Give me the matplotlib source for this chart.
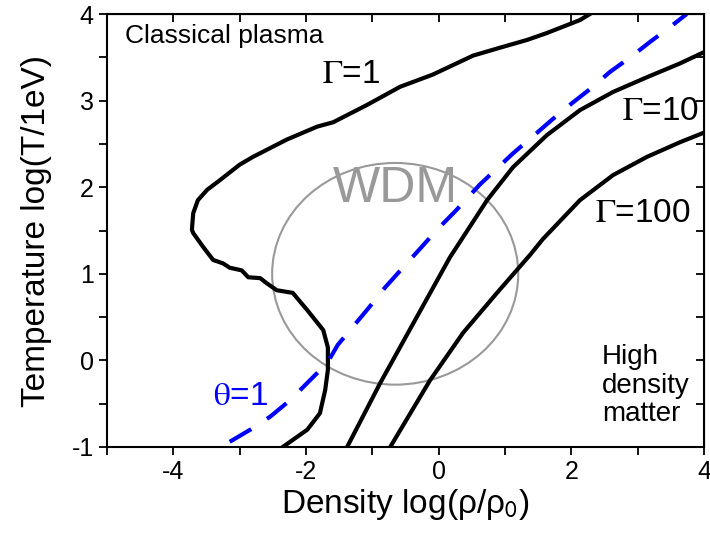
import matplotlib.pyplot as plt
from matplotlib.patches import Ellipse
from matplotlib.ticker import MultipleLocator

plt.rcParams['font.family'] = ['Liberation Sans', 'DejaVu Sans']
plt.rcParams['mathtext.fontset'] = 'stix'
plt.rcParams['axes.unicode_minus'] = False

# Gamma = 1 contour (log rho, log T)
g1_x = [2.28, 2.13, 1.63, 1.33, 0.92, 0.52, -0.09, -0.58, -1.08, -1.59, -1.83,
        -2.29, -2.80, -3.00, -3.30, -3.49, -3.63, -3.70, -3.72, -3.70, -3.55, -3.40,
        -3.25, -3.15, -2.97, -2.87, -2.69, -2.59, -2.44, -2.20, -1.98, -1.74, -1.67,
        -1.67, -1.71, -1.79, -1.98, -2.35]
g1_y = [4.00, 3.93, 3.78, 3.70, 3.61, 3.52, 3.30, 3.16, 2.95, 2.75, 2.70,
        2.55, 2.35, 2.26, 2.08, 1.97, 1.85, 1.70, 1.51, 1.47, 1.31, 1.16,
        1.12, 1.07, 1.04, 0.96, 0.95, 0.89, 0.81, 0.78, 0.58, 0.35, 0.15,
        -0.11, -0.34, -0.61, -0.80, -1.00]

# Gamma = 10
g10_x = [-1.38, -0.88, -0.33, 0.17, 0.73, 1.12, 1.63, 2.13, 2.63, 3.14, 3.64, 4.00]
g10_y = [-1.00, -0.26, 0.50, 1.19, 1.85, 2.23, 2.60, 2.89, 3.10, 3.27, 3.43, 3.56]

# Gamma = 100
g100_x = [-0.73, -0.13, 0.37, 0.88, 1.38, 1.57, 2.13, 2.63, 3.14, 3.64, 4.00]
g100_y = [-1.00, -0.23, 0.32, 0.78, 1.22, 1.40, 1.85, 2.14, 2.35, 2.52, 2.63]

# theta = 1 (degeneracy line)
th_x = [-3.15, -2.84, -2.54, -2.24, -1.98, -1.68, -1.52, -1.29, -1.04, -0.81,
        -0.54, -0.28, -0.01, 0.26, 0.62, 1.12, 1.41, 1.71, 2.01, 2.31, 2.58,
        2.89, 3.19, 3.49, 3.74]
th_y = [-0.94, -0.80, -0.65, -0.46, -0.26, -0.03, 0.18, 0.39, 0.62, 0.84,
        1.07, 1.29, 1.52, 1.73, 2.03, 2.39, 2.58, 2.78, 2.97, 3.15, 3.33,
        3.50, 3.68, 3.85, 4.00]

fig = plt.figure(figsize=(7.1, 5.35), dpi=100)
ax = fig.add_axes([0.1507, 0.1645, 0.8408, 0.8093])

ax.plot(g1_x, g1_y, color='black', lw=3)
ax.plot(g10_x, g10_y, color='black', lw=3)
ax.plot(g100_x, g100_y, color='black', lw=3)
ax.plot(th_x, th_y, color='#0000ff', lw=3, dashes=(6, 4.5))

# WDM region
ax.add_patch(Ellipse((-0.655, 1.0), 3.71, 2.56, fill=False, ec='#999999', lw=1.5))
ax.text(-0.66, 1.98, 'WDM', color='#999999', fontsize=36, ha='center', va='center')

ax.text(-4.73, 3.75, 'Classical plasma', fontsize=19, ha='left', va='center')
ax.text(-1.32, 3.30, r'$\Gamma$=1', fontsize=24, ha='center', va='center')
ax.text(3.35, 2.87, r'$\Gamma$=10', fontsize=24, ha='center', va='center')
ax.text(3.07, 1.70, r'$\Gamma$=100', fontsize=24, ha='center', va='center')
ax.text(-2.99, -0.42, r'$\mathrm{\theta}$=1', fontsize=24, color='#0000ff',
        ha='center', va='center')
ax.text(2.46, -0.29, 'High\ndensity\nmatter', fontsize=20, ha='left', va='center',
        linespacing=1.12)

ax.set_xlim(-5, 4)
ax.set_ylim(-1, 4)
ax.xaxis.set_major_locator(MultipleLocator(2))
ax.xaxis.set_minor_locator(MultipleLocator(1))
ax.yaxis.set_major_locator(MultipleLocator(1))
ax.yaxis.set_minor_locator(MultipleLocator(0.5))
ax.tick_params(which='both', direction='out', length=6, width=1.3, labelsize=18,
               top=False, right=False)
for s in ax.spines.values():
    s.set_linewidth(1.5)

top = ax.secondary_xaxis('top')
top.set_xticks(range(-5, 5))
top.tick_params(direction='in', length=6, width=1.3, labeltop=False)
right = ax.secondary_yaxis('right')
right.set_yticks([v / 2 for v in range(-2, 9)])
right.tick_params(direction='in', length=6, width=1.3, labelright=False)

ax.set_xlabel(r'Density log(ρ/ρ$_\mathsf{0}$)', fontsize=24, labelpad=2)
ax.set_ylabel('Temperature log(T/1eV)', fontsize=24, labelpad=14)

fig.savefig('out.png', dpi=100)
